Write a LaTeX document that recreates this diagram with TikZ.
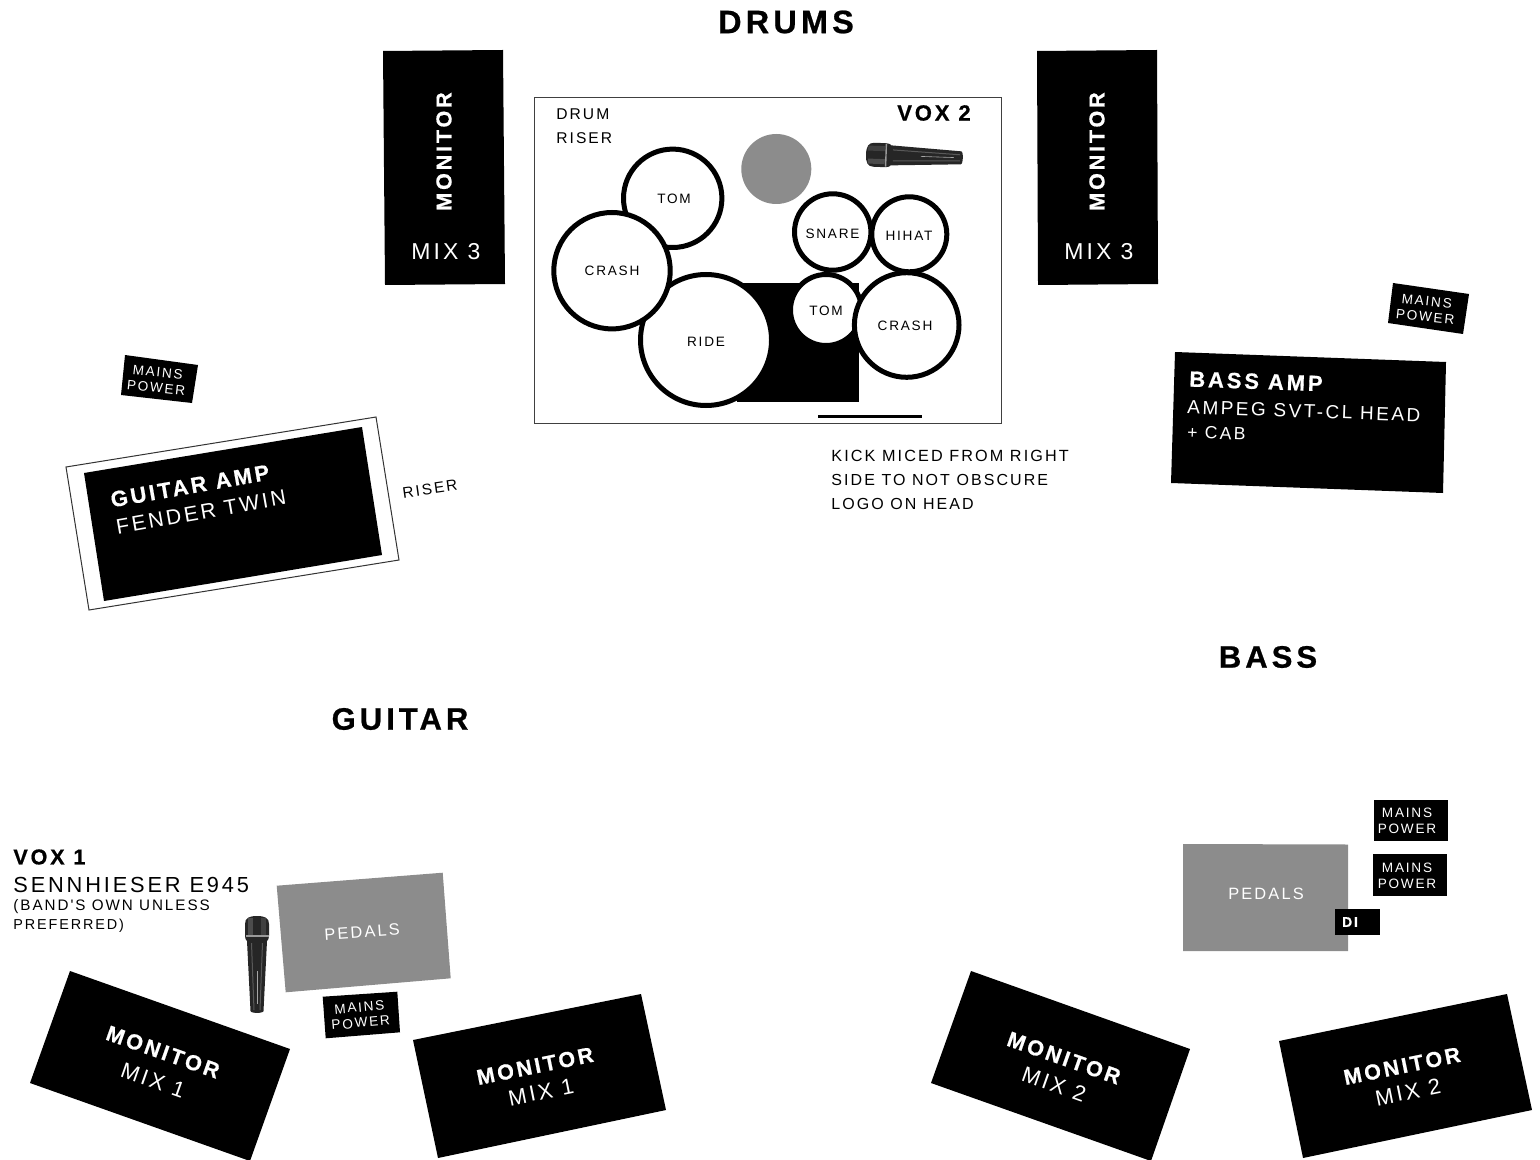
\documentclass[tikz,border=0pt]{standalone}
\usepackage{fontspec}
\setmainfont{Liberation Sans}
\newfontfamily\lite[LetterSpace=13]{Liberation Sans}
\newfontfamily\hvy[LetterSpace=13,FakeBold=0.7]{Liberation Sans Bold}
\definecolor{pedalgrey}{HTML}{8C8C8C}
\newcommand{\fs}[1]{\fontsize{#1}{#1}\selectfont}
\tikzset{
  x=0.5pt,y=-0.5pt,
  blk/.style={fill=black},
  grey/.style={fill=pedalgrey},
  wt/.style={inner sep=0pt,text=white,align=center},
  bt/.style={inner sep=0pt,text=black,align=left},
  lt/.style={font=\lite\fs{#1}},
  hv/.style={font=\hvy\fs{#1}},
  drum/.style={draw=black,fill=white,line width=2.5pt},
  micpic/.pic={
    \fill[black!85] (0,0) .. controls (0,-8) and (2,-12) .. (8,-12) -- (20,-12) .. controls (23,-12) and (24,-11) .. (25,-10) -- (95,-6.5)
       .. controls (97.5,-6.5) and (97.5,6.5) .. (95,6.5) -- (25,10) .. controls (24,11) and (23,12) .. (20,12) -- (8,12) .. controls (2,12) and (0,8) .. (0,0) -- cycle;
    \fill[black!75] (2,-9) rectangle (19,-4);
    \fill[black!70] (2,4) rectangle (19,9);
    \draw[black!40,line width=0.7pt] (20,-11.5) -- (20,11.5);
    \draw[black!65,line width=0.5pt] (27,-5.5) -- (94,-3);
    \draw[black!65,line width=0.5pt] (27,5.5) -- (94,3);
    \draw[black!35,line width=0.3pt] (55,0) -- (88,0);
  }
}
\begin{document}
\begin{tikzpicture}
\useasboundingbox (0,0) rectangle (1540,1160);
\clip (0,0) rectangle (1540,1160);

% headings
\node[bt,hv=16.2] (hdrums) at (786,22) {DRUMS};
\node[bt,hv=15.5] (hbass) at (1268,657) {BASS};
\node[bt,hv=15.5] (hguitar) at (400,719) {GUITAR};

% top monitors
\fill[blk] (383,51) -- (503,50) -- (505,284) -- (385,285) -- cycle;
\node[wt,hv=10.8,rotate=90] (mon1) at (444,151.5) {MONITOR};
\node[wt,lt=11.5] (mix1) at (446,252) {MIX 3};
\fill[blk] (1037,51) -- (1157,50) -- (1158,284) -- (1038,285) -- cycle;
\node[wt,hv=10.8,rotate=90] (mon2) at (1097,151.5) {MONITOR};
\node[wt,lt=11.5] (mix2) at (1099,252) {MIX 3};

% drum riser
\draw[draw=black!75,fill=white,line width=0.5pt] (534,98) rectangle (1001,423);
\node[bt,lt=7.8,anchor=west] (drumr) at (556,114) {DRUM};
\node[bt,lt=7.8,anchor=west] (riserr) at (556,138) {RISER};
\node[bt,hv=11] (vox2) at (934,113) {VOX 2};
\fill[pedalgrey] (776.3,169) circle (35);
\pic at (866,154.5) [rotate=-2] {micpic};
\fill[blk] (737,282.7) rectangle (858.7,402.3);
\fill[black] (818.3,415.2) rectangle (922.3,418.2);
% drums
\draw[drum] (672.7,198.3) circle (49.2);
\draw[drum] (706,340) circle (65.5);
\draw[drum] (612,270.7) circle (58.2);
\draw[drum] (832.7,232) circle (38.2);
\draw[drum] (909.3,234.3) circle (37.5);
\draw[drum] (826,310) circle (35.5);
\draw[drum] (906.7,325) circle (52.3);
\node[bt,lt=6.8] (ltom) at (674,199) {TOM};
\node[bt,lt=6.8] (lcrash) at (612,270.5) {CRASH};
\node[bt,lt=6.8] (lride) at (706,342) {RIDE};
\node[bt,lt=6.8] (lsnare) at (832.5,233.5) {SNARE};
\node[bt,lt=6.8] (lhihat) at (909,236) {HIHAT};
\node[bt,lt=6.8] (ltom2) at (826,311) {TOM};
\node[bt,lt=6.8] (lcrash2) at (905,326) {CRASH};

% kick note
\node[bt,lt=8.1,anchor=west] (k1) at (831,456) {KICK MICED FROM RIGHT};
\node[bt,lt=8,anchor=west] (k2) at (831,480) {SIDE TO NOT OBSCURE};
\node[bt,lt=8,anchor=west] (k3) at (831,504) {LOGO ON HEAD};

% guitar amp
\fill[blk] (125,355) -- (198,365) -- (192,403) -- (121,395) -- cycle;
\node[wt,lt=6.8,rotate=-6] (mp1) at (157,380) {MAINS\\[1pt]POWER};
\draw[draw=black!80,fill=white,line width=0.5pt] (66,467) -- (376,417) -- (399,560) -- (89,610) -- cycle;
\fill[blk] (84,473) -- (362,427) -- (382,555) -- (104,601) -- cycle;
\node[wt,hv=11,rotate=10] (gamp) at (190,486) {GUITAR AMP};
\node[wt,lt=10.6,rotate=10] (gtwin) at (201,512) {FENDER TWIN};
\node[bt,lt=7.7,rotate=8] (griser) at (430,489) {RISER};

% bass amp
\fill[blk] (1393,283) -- (1469,294) -- (1463,334) -- (1388,323) -- cycle;
\node[wt,lt=6.8,rotate=-6] (mp2) at (1426,309) {MAINS\\[1pt]POWER};
\fill[blk] (1175,352) -- (1446,362) -- (1443,493) -- (1171,483) -- cycle;
\node[wt,hv=11,rotate=-2,anchor=west] (bamp) at (1189,379) {BASS AMP};
\node[wt,lt=9.5,rotate=-2,anchor=west] (bhead) at (1187,407) {AMPEG SVT-CL HEAD};
\node[wt,lt=8.8,rotate=-2,anchor=west] (bcab) at (1187,432) {+ CAB};

% vox 1
\node[bt,hv=10.8,anchor=west] (vox1) at (13,857) {VOX 1};
\node[bt,lt=10.9,anchor=west] (senn) at (13,885) {SENNHIESER E945};
\node[bt,lt=7.6,anchor=west] (own1) at (13,907) {(BAND'S OWN UNLESS};
\node[bt,lt=7.2,anchor=west] (own2) at (13,926) {PREFERRED)};
\pic at (257,916) [rotate=-90] {micpic};

% guitar pedals
\fill[grey] (276.7,885.7) -- (442.7,872.7) -- (450.7,978.3) -- (285.7,992.3) -- cycle;
\node[wt,lt=8.2,rotate=4] (ped1) at (362,932) {PEDALS};
\fill[blk] (322.7,996.7) -- (397.3,991.7) -- (400,1032.3) -- (325.7,1038.3) -- cycle;
\node[wt,lt=6.8,rotate=5] (mp3) at (360,1015) {MAINS\\[1pt]POWER};

% bottom monitors
\fill[blk] (70,971) -- (290,1049) -- (250,1161) -- (30,1083) -- cycle;
\node[wt,hv=10.8,rotate=-19.5] (m1) at (163,1052) {MONITOR};
\node[wt,lt=11,rotate=-19.5] (m1b) at (153,1080) {MIX 1};
\fill[blk] (413,1040) -- (641,994) -- (666,1110) -- (438,1158) -- cycle;
\node[wt,hv=10.8,rotate=11.5] (m2) at (535,1066) {MONITOR};
\node[wt,lt=11,rotate=11.5] (m2b) at (541,1092) {MIX 1};
\fill[blk] (971,971) -- (1190,1049) -- (1151,1161) -- (931,1083) -- cycle;
\node[wt,hv=10.8,rotate=-19.5] (m3) at (1064,1058) {MONITOR};
\node[wt,lt=11,rotate=-19.5] (m3b) at (1054,1084) {MIX 2};
\fill[blk] (1279,1041) -- (1507,994) -- (1532,1110) -- (1303,1158) -- cycle;
\node[wt,hv=10.8,rotate=11.5] (m4) at (1402,1066) {MONITOR};
\node[wt,lt=11,rotate=11.5] (m4b) at (1408,1092) {MIX 2};

% bass pedals
\fill[grey] (1183,844) -- (1348,844.5) -- (1348,951) -- (1183,951) -- cycle;
\node[wt,lt=8.2] (ped2) at (1266,894) {PEDALS};
\fill[blk] (1374,800) rectangle (1447.7,841.3);
\node[wt,lt=6.8] (mp4) at (1407,821) {MAINS\\[1pt]POWER};
\fill[blk] (1372.7,854.3) rectangle (1446.7,895.7);
\node[wt,lt=6.8] (mp5) at (1407,876) {MAINS\\[1pt]POWER};
\fill[blk] (1335,909.3) rectangle (1379.7,934.7);
\node[wt,hv=7] (di) at (1350,922) {DI};
\end{tikzpicture}
\end{document}
